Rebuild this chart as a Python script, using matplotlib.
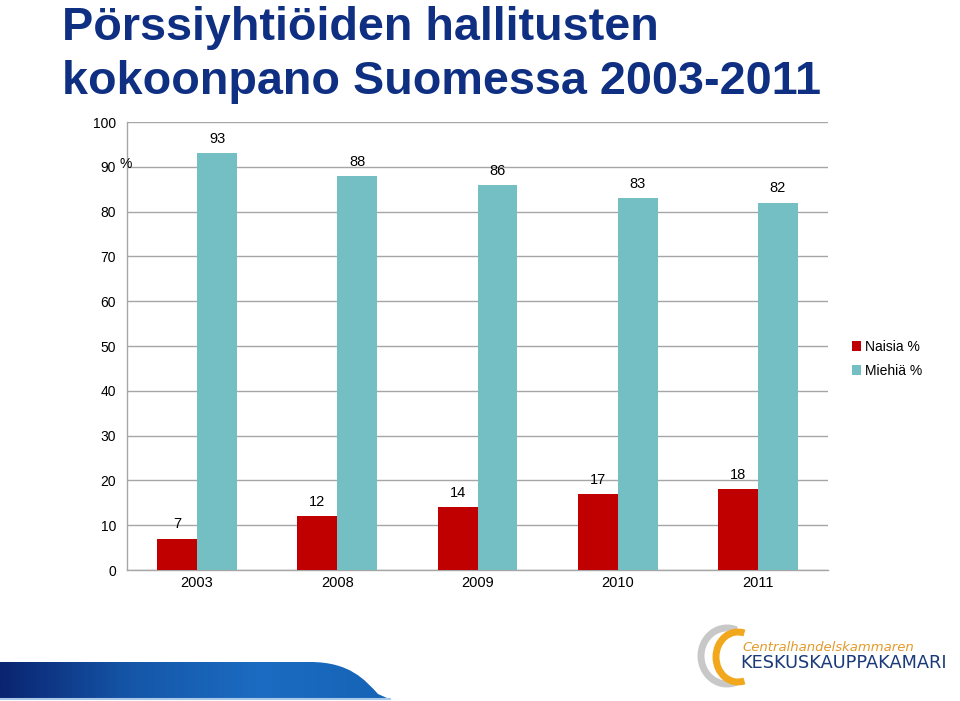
import matplotlib
matplotlib.use("Agg")
import matplotlib.pyplot as plt
import numpy as np
from matplotlib.patches import PathPatch, Arc
from matplotlib.path import Path
from matplotlib.colors import LinearSegmentedColormap

years = ["2003", "2008", "2009", "2010", "2011"]
naisia = [7, 12, 14, 17, 18]
miehia = [93, 88, 86, 83, 82]
yticks = [0, 10, 20, 30, 40, 50, 60, 70, 80, 90, 100]

plt.rcParams['font.family'] = ['Liberation Sans', 'DejaVu Sans']

W, H = 960, 701
fig = plt.figure(figsize=(9.6, 7.01), dpi=100)
fig.patch.set_facecolor('white')

ax = fig.add_axes([127 / W, 1 - 570 / H, (828 - 127) / W, (570 - 122) / H])
x = np.arange(len(years))
bw = 0.285
red = '#C00000'
teal = '#73BFC4'
b1 = ax.bar(x - bw / 2, naisia, bw, color=red, label='Naisia %', zorder=3)
b2 = ax.bar(x + bw / 2, miehia, bw, color=teal, label='Miehiä %', zorder=3)
for rect, v in zip(b1, naisia):
    ax.text(rect.get_x() + rect.get_width() / 2, v + 1.6, str(v), ha='center', va='bottom', fontsize=10.5)
for rect, v in zip(b2, miehia):
    ax.text(rect.get_x() + rect.get_width() / 2, v + 1.6, str(v), ha='center', va='bottom', fontsize=10.5)

ax.set_xlim(-0.5, len(years) - 0.5)
ax.set_ylim(0, 100)
ax.set_yticks(yticks)
ax.set_yticklabels([str(t) for t in yticks], fontsize=10)
ax.set_xticks(x)
ax.set_xticklabels(years, fontsize=10.5)
ax.tick_params(axis='both', length=0, pad=8)
ax.tick_params(axis='x', pad=4)
ax.yaxis.grid(True, color='#A6A6A6', linewidth=1.0, zorder=0)
ax.set_axisbelow(True)
for s in ['top', 'right']:
    ax.spines[s].set_visible(False)
ax.spines['left'].set_color('#A6A6A6')
ax.spines['bottom'].set_color('#A6A6A6')
ax.spines['left'].set_linewidth(1.0)
ax.spines['bottom'].set_linewidth(1.0)

leg = fig.legend(handles=[b1, b2], loc='upper left', bbox_to_anchor=(846 / W, 1 - 334 / H),
                 frameon=False, fontsize=10, handlelength=0.7, handleheight=0.7,
                 handletextpad=0.3, labelspacing=0.75, borderaxespad=0)

ov2 = fig.add_axes([0, 0, 1, 1], zorder=5)
ov2.set_xlim(0, W)
ov2.set_ylim(H, 0)
ov2.axis('off')
ov2.patch.set_alpha(0)

title_color = '#0E2F82'
ov2.text(62, 40, "Pörssiyhtiöiden hallitusten", fontsize=33.7, fontweight='bold',
         color=title_color, ha='left', va='baseline')
ov2.text(62, 94, "kokoonpano Suomessa 2003-2011", fontsize=33.7, fontweight='bold',
         color=title_color, ha='left', va='baseline')
ov2.text(120, 168, "%", fontsize=10, ha='left', va='baseline')

# bottom band with gradient
verts = [(0, 662), (310, 662), (350, 662), (365, 680), (378, 694), (387, 698), (0, 698), (0, 662)]
codes = [Path.MOVETO, Path.LINETO, Path.CURVE4, Path.CURVE4, Path.CURVE4, Path.LINETO, Path.LINETO, Path.CLOSEPOLY]
path = Path(verts, codes)
patch = PathPatch(path, facecolor='none', edgecolor='none')
ov2.add_patch(patch)
grad = np.linspace(0, 1, 256).reshape(1, -1)
cmap = LinearSegmentedColormap.from_list('band', ['#0A2470', '#1556A8', '#1B6CC2', '#1563B6'])
im = ov2.imshow(grad, extent=[0, 390, 698, 662], cmap=cmap, aspect='auto', zorder=1)
im.set_clip_path(patch)
ov2.plot([0, 390], [699, 699], color='#A9C8E8', linewidth=1.5, zorder=1)

# logo
ov2.add_patch(Arc((727, 656), 52, 56, theta1=70, theta2=290, color='#C8C8C8', linewidth=5))
ov2.add_patch(Arc((738, 657), 44, 50, theta1=75, theta2=285, color='#F2A81D', linewidth=5))
ov2.text(742, 651, "Centralhandelskammaren", fontsize=9.5, style='italic', color='#E39A2A',
         ha='left', va='baseline', family=['DejaVu Sans'])
ov2.text(740, 668, "KESKUSKAUPPAKAMARI", fontsize=12.8, color='#1B3A7A',
         ha='left', va='baseline', family=['DejaVu Sans'])

fig.savefig('out.png', dpi=100, facecolor='white')
